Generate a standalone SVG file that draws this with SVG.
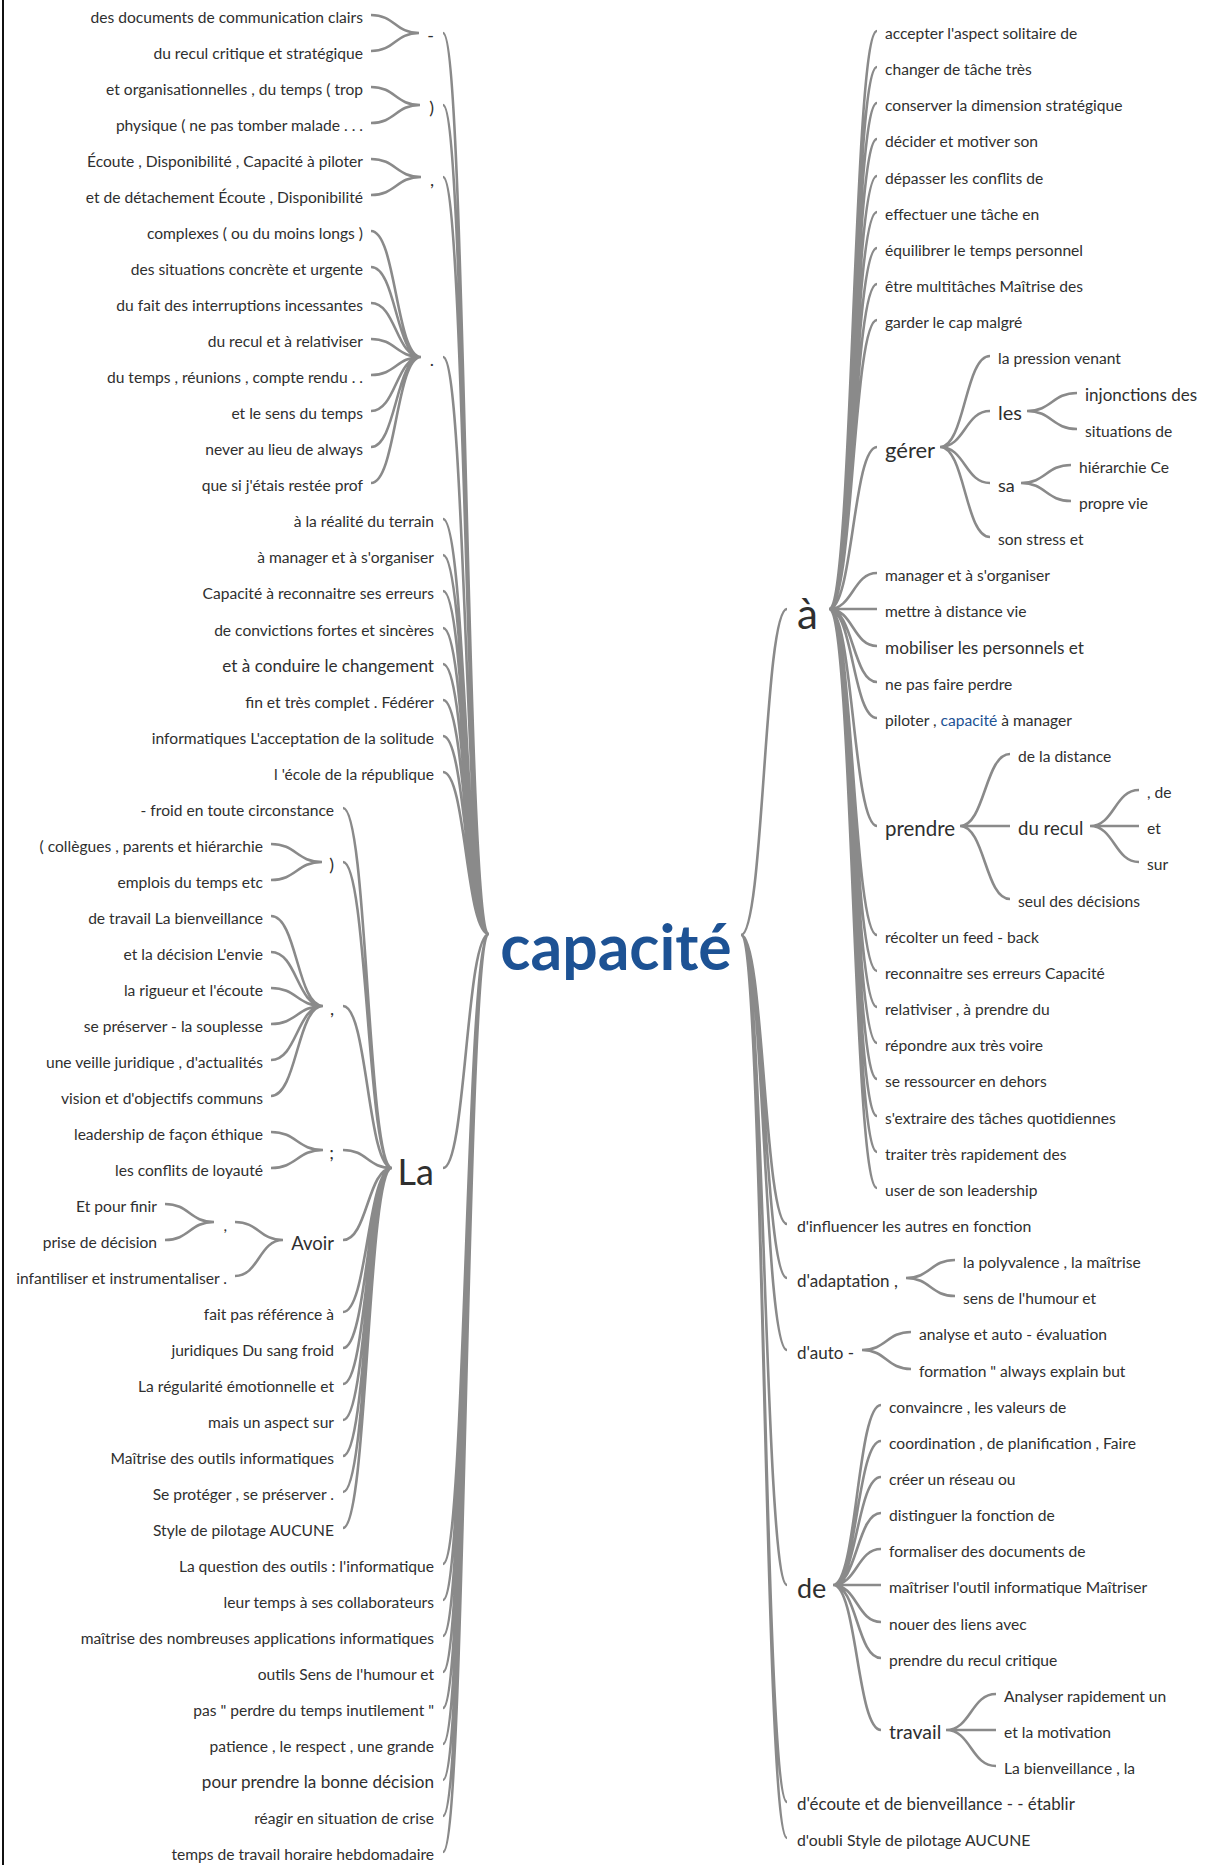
<svg xmlns="http://www.w3.org/2000/svg" width="1208" height="1865" viewBox="0 0 1208 1865">
<style>
.t{font-family:Lato,'Liberation Sans',sans-serif;font-size:15.6px;fill:#2f2f2f}
.e{text-anchor:end}
.c path{fill:none;stroke:#8a8a8a;stroke-width:2.6}
.root{font-family:Lato,'Liberation Sans',sans-serif;font-weight:bold;font-size:62.5px;fill:#1d5294;text-anchor:middle}
.hl{fill:#1d5294}
</style>
<rect x="2" y="0" width="2" height="1865" fill="#111"/>
<g class="c" id="connectors">
<path d="M489 934C466 934 466 33 443 33M489 934C466 934 466 105 443 105M489 934C466 934 466 177 443 177M489 934C466 934 466 357 443 357M489 934C466 934 466 519 443 519M489 934C466 934 466 555 443 555M489 934C466 934 466 591 443 591M489 934C466 934 466 628 443 628M489 934C466 934 466 664 443 664M489 934C466 934 466 700 443 700M489 934C466 934 466 736 443 736M489 934C466 934 466 772 443 772M489 934C466 934 466 1168 443 1168M489 934C466 934 466 1564 443 1564M489 934C466 934 466 1600 443 1600M489 934C466 934 466 1636 443 1636M489 934C466 934 466 1672 443 1672M489 934C466 934 466 1708 443 1708M489 934C466 934 466 1744 443 1744M489 934C466 934 466 1780 443 1780M489 934C466 934 466 1816 443 1816M489 934C466 934 466 1852 443 1852"/>
<path d="M419 33C395 33 395 15 371 15M419 33C395 33 395 51 371 51"/>
<path d="M420 105C395.5 105 395.5 87 371 87M420 105C395.5 105 395.5 123 371 123"/>
<path d="M421 177C396 177 396 159 371 159M421 177C396 177 396 195 371 195"/>
<path d="M421 357C396 357 396 231 371 231M421 357C396 357 396 267 371 267M421 357C396 357 396 303 371 303M421 357C396 357 396 339 371 339M421 357C396 357 396 375 371 375M421 357C396 357 396 411 371 411M421 357C396 357 396 447 371 447M421 357C396 357 396 483 371 483"/>
<path d="M392 1168C367.5 1168 367.5 808 343 808M392 1168C367.5 1168 367.5 862 343 862M392 1168C367.5 1168 367.5 1006 343 1006M392 1168C367.5 1168 367.5 1150 343 1150M392 1168C367.5 1168 367.5 1240 343 1240M392 1168C367.5 1168 367.5 1312 343 1312M392 1168C367.5 1168 367.5 1348 343 1348M392 1168C367.5 1168 367.5 1384 343 1384M392 1168C367.5 1168 367.5 1420 343 1420M392 1168C367.5 1168 367.5 1456 343 1456M392 1168C367.5 1168 367.5 1492 343 1492M392 1168C367.5 1168 367.5 1528 343 1528"/>
<path d="M322 862C296.5 862 296.5 844 271 844M322 862C296.5 862 296.5 880 271 880"/>
<path d="M323 1006C297 1006 297 916 271 916M323 1006C297 1006 297 952 271 952M323 1006C297 1006 297 988 271 988M323 1006C297 1006 297 1024 271 1024M323 1006C297 1006 297 1060 271 1060M323 1006C297 1006 297 1096 271 1096"/>
<path d="M323 1150C297 1150 297 1132 271 1132M323 1150C297 1150 297 1168 271 1168"/>
<path d="M283 1240C259 1240 259 1222 235 1222M283 1240C259 1240 259 1276 235 1276"/>
<path d="M214 1222C189.5 1222 189.5 1204 165 1204M214 1222C189.5 1222 189.5 1240 165 1240"/>
<path d="M741 935C764 935 764 609 787 609M741 935C764 935 764 1224 787 1224M741 935C764 935 764 1278 787 1278M741 935C764 935 764 1350 787 1350M741 935C764 935 764 1585 787 1585M741 935C764 935 764 1802 787 1802M741 935C764 935 764 1838 787 1838"/>
<path d="M829 609C853 609 853 31 877 31M829 609C853 609 853 67 877 67M829 609C853 609 853 103 877 103M829 609C853 609 853 139 877 139M829 609C853 609 853 176 877 176M829 609C853 609 853 212 877 212M829 609C853 609 853 248 877 248M829 609C853 609 853 284 877 284M829 609C853 609 853 320 877 320M829 609C853 609 853 447 877 447M829 609C853 609 853 573 877 573M829 609C853 609 853 609 877 609M829 609C853 609 853 646 877 646M829 609C853 609 853 682 877 682M829 609C853 609 853 718 877 718M829 609C853 609 853 826 877 826M829 609C853 609 853 935 877 935M829 609C853 609 853 971 877 971M829 609C853 609 853 1007 877 1007M829 609C853 609 853 1043 877 1043M829 609C853 609 853 1079 877 1079M829 609C853 609 853 1116 877 1116M829 609C853 609 853 1152 877 1152M829 609C853 609 853 1188 877 1188"/>
<path d="M940 447C965 447 965 356 990 356M940 447C965 447 965 411 990 411M940 447C965 447 965 483 990 483M940 447C965 447 965 537 990 537"/>
<path d="M1027 411C1052 411 1052 393 1077 393M1027 411C1052 411 1052 429 1077 429"/>
<path d="M1021 483C1046 483 1046 465 1071 465M1021 483C1046 483 1046 501 1071 501"/>
<path d="M960 826C985 826 985 754 1010 754M960 826C985 826 985 826 1010 826M960 826C985 826 985 899 1010 899"/>
<path d="M1090 826C1114.5 826 1114.5 790 1139 790M1090 826C1114.5 826 1114.5 826 1139 826M1090 826C1114.5 826 1114.5 862 1139 862"/>
<path d="M906 1278C930.5 1278 930.5 1260 955 1260M906 1278C930.5 1278 930.5 1296 955 1296"/>
<path d="M862 1350C886.5 1350 886.5 1332 911 1332M862 1350C886.5 1350 886.5 1369 911 1369"/>
<path d="M833 1585C857 1585 857 1405 881 1405M833 1585C857 1585 857 1441 881 1441M833 1585C857 1585 857 1477 881 1477M833 1585C857 1585 857 1513 881 1513M833 1585C857 1585 857 1549 881 1549M833 1585C857 1585 857 1585 881 1585M833 1585C857 1585 857 1622 881 1622M833 1585C857 1585 857 1658 881 1658M833 1585C857 1585 857 1730 881 1730"/>
<path d="M946 1730C971 1730 971 1694 996 1694M946 1730C971 1730 971 1730 996 1730M946 1730C971 1730 971 1766 996 1766"/>
</g>
<g id="root"><text class="root" x="616" y="970">capacité</text></g>
<g id="left-nodes" class="t e">
<g id="l-dash"><text x="434" y="42" font-size="18">-</text></g>
<g id="l-paren"><text x="434" y="114" font-size="18">)</text></g>
<g id="l-comma"><text x="434" y="186" font-size="18">,</text></g>
<g id="l-dot"><text x="434" y="366" font-size="18">.</text></g>
<g id="l-La"><text x="434" y="1185" font-size="36">La</text></g>
<g id="l-La-paren"><text x="334" y="871" font-size="18">)</text></g>
<g id="l-La-comma"><text x="334" y="1015" font-size="18">,</text></g>
<g id="l-La-semi"><text x="334" y="1159" font-size="18">;</text></g>
<g id="l-Avoir"><text x="334" y="1250" font-size="18.5">Avoir</text></g>
<g id="l-Avoir-comma"><text x="227" y="1231">,</text></g>
<g id="l0"><text x="363" y="23">des documents de communication clairs</text></g>
<g id="l1"><text x="363" y="59">du recul critique et stratégique</text></g>
<g id="l2"><text x="363" y="95">et organisationnelles , du temps ( trop</text></g>
<g id="l3"><text x="363" y="131">physique ( ne pas tomber malade . . .</text></g>
<g id="l4"><text x="363" y="167">Écoute , Disponibilité , Capacité à piloter</text></g>
<g id="l5"><text x="363" y="203">et de détachement Écoute , Disponibilité</text></g>
<g id="l6"><text x="363" y="239">complexes ( ou du moins longs )</text></g>
<g id="l7"><text x="363" y="275">des situations concrète et urgente</text></g>
<g id="l8"><text x="363" y="311">du fait des interruptions incessantes</text></g>
<g id="l9"><text x="363" y="347">du recul et à relativiser</text></g>
<g id="l10"><text x="363" y="383">du temps , réunions , compte rendu . .</text></g>
<g id="l11"><text x="363" y="419">et le sens du temps</text></g>
<g id="l12"><text x="363" y="455">never au lieu de always</text></g>
<g id="l13"><text x="363" y="491">que si j'étais restée prof</text></g>
<g id="l14"><text x="434" y="527">à la réalité du terrain</text></g>
<g id="l15"><text x="434" y="563">à manager et à s'organiser</text></g>
<g id="l16"><text x="434" y="599">Capacité à reconnaitre ses erreurs</text></g>
<g id="l17"><text x="434" y="636">de convictions fortes et sincères</text></g>
<g id="l18"><text x="434" y="672" font-size="17.1">et à conduire le changement</text></g>
<g id="l19"><text x="434" y="708">fin et très complet . Fédérer</text></g>
<g id="l20"><text x="434" y="744">informatiques L'acceptation de la solitude</text></g>
<g id="l21"><text x="434" y="780">l 'école de la république</text></g>
<g id="l22"><text x="334" y="816">- froid en toute circonstance</text></g>
<g id="l23"><text x="263" y="852">( collègues , parents et hiérarchie</text></g>
<g id="l24"><text x="263" y="888">emplois du temps etc</text></g>
<g id="l25"><text x="263" y="924">de travail La bienveillance</text></g>
<g id="l26"><text x="263" y="960">et la décision L'envie</text></g>
<g id="l27"><text x="263" y="996">la rigueur et l'écoute</text></g>
<g id="l28"><text x="263" y="1032">se préserver - la souplesse</text></g>
<g id="l29"><text x="263" y="1068">une veille juridique , d'actualités</text></g>
<g id="l30"><text x="263" y="1104">vision et d'objectifs communs</text></g>
<g id="l31"><text x="263" y="1140">leadership de façon éthique</text></g>
<g id="l32"><text x="263" y="1176">les conflits de loyauté</text></g>
<g id="l33"><text x="157" y="1212">Et pour finir</text></g>
<g id="l34"><text x="157" y="1248">prise de décision</text></g>
<g id="l35"><text x="227" y="1284">infantiliser et instrumentaliser .</text></g>
<g id="l36"><text x="334" y="1320">fait pas référence à</text></g>
<g id="l37"><text x="334" y="1356">juridiques Du sang froid</text></g>
<g id="l38"><text x="334" y="1392">La régularité émotionnelle et</text></g>
<g id="l39"><text x="334" y="1428">mais un aspect sur</text></g>
<g id="l40"><text x="334" y="1464">Maîtrise des outils informatiques</text></g>
<g id="l41"><text x="334" y="1500">Se protéger , se préserver .</text></g>
<g id="l42"><text x="334" y="1536">Style de pilotage AUCUNE</text></g>
<g id="l43"><text x="434" y="1572">La question des outils : l'informatique</text></g>
<g id="l44"><text x="434" y="1608">leur temps à ses collaborateurs</text></g>
<g id="l45"><text x="434" y="1644">maîtrise des nombreuses applications informatiques</text></g>
<g id="l46"><text x="434" y="1680">outils Sens de l'humour et</text></g>
<g id="l47"><text x="434" y="1716">pas " perdre du temps inutilement "</text></g>
<g id="l48"><text x="434" y="1752">patience , le respect , une grande</text></g>
<g id="l49"><text x="434" y="1788" font-size="17.1">pour prendre la bonne décision</text></g>
<g id="l50"><text x="434" y="1824">réagir en situation de crise</text></g>
<g id="l51"><text x="434" y="1860">temps de travail horaire hebdomadaire</text></g>
</g>
<g id="right-nodes" class="t">
<g id="r-a"><text x="797" y="629" font-size="42">à</text></g>
<g id="r-gerer"><text x="885" y="458" font-size="22">gérer</text></g>
<g id="r-les"><text x="998" y="420" font-size="20">les</text></g>
<g id="r-sa"><text x="998" y="492" font-size="18">sa</text></g>
<g id="r-prendre"><text x="885" y="836" font-size="20.5">prendre</text></g>
<g id="r-durecul"><text x="1018" y="835" font-size="18.6">du recul</text></g>
<g id="r-adapt"><text x="797" y="1287" font-size="17">d'adaptation ,</text></g>
<g id="r-auto"><text x="797" y="1359" font-size="17">d'auto -</text></g>
<g id="r-de"><text x="797" y="1598" font-size="27">de</text></g>
<g id="r-travail"><text x="889" y="1739" font-size="19.5">travail</text></g>
<g id="r0"><text x="885" y="39">accepter l'aspect solitaire de</text></g>
<g id="r1"><text x="885" y="75">changer de tâche très</text></g>
<g id="r2"><text x="885" y="111">conserver la dimension stratégique</text></g>
<g id="r3"><text x="885" y="147">décider et motiver son</text></g>
<g id="r4"><text x="885" y="184">dépasser les conflits de</text></g>
<g id="r5"><text x="885" y="220">effectuer une tâche en</text></g>
<g id="r6"><text x="885" y="256">équilibrer le temps personnel</text></g>
<g id="r7"><text x="885" y="292">être multitâches Maîtrise des</text></g>
<g id="r8"><text x="885" y="328">garder le cap malgré</text></g>
<g id="r9"><text x="998" y="364">la pression venant</text></g>
<g id="r10"><text x="1085" y="401" font-size="17">injonctions des</text></g>
<g id="r11"><text x="1085" y="437">situations de</text></g>
<g id="r12"><text x="1079" y="473">hiérarchie Ce</text></g>
<g id="r13"><text x="1079" y="509">propre vie</text></g>
<g id="r14"><text x="998" y="545">son stress et</text></g>
<g id="r15"><text x="885" y="581">manager et à s'organiser</text></g>
<g id="r16"><text x="885" y="617">mettre à distance vie</text></g>
<g id="r17"><text x="885" y="654" font-size="17.2">mobiliser les personnels et</text></g>
<g id="r18"><text x="885" y="690">ne pas faire perdre</text></g>
<g id="r19"><text x="885" y="726">piloter , <tspan class="hl">capacité</tspan> à manager</text></g>
<g id="r20"><text x="1018" y="762">de la distance</text></g>
<g id="r21"><text x="1147" y="798">, de</text></g>
<g id="r22"><text x="1147" y="834">et</text></g>
<g id="r23"><text x="1147" y="870">sur</text></g>
<g id="r24"><text x="1018" y="907">seul des décisions</text></g>
<g id="r25"><text x="885" y="943">récolter un feed - back</text></g>
<g id="r26"><text x="885" y="979">reconnaitre ses erreurs Capacité</text></g>
<g id="r27"><text x="885" y="1015">relativiser , à prendre du</text></g>
<g id="r28"><text x="885" y="1051">répondre aux très voire</text></g>
<g id="r29"><text x="885" y="1087">se ressourcer en dehors</text></g>
<g id="r30"><text x="885" y="1124">s'extraire des tâches quotidiennes</text></g>
<g id="r31"><text x="885" y="1160">traiter très rapidement des</text></g>
<g id="r32"><text x="885" y="1196">user de son leadership</text></g>
<g id="r33"><text x="797" y="1232" font-size="15.8">d'influencer les autres en fonction</text></g>
<g id="r34"><text x="963" y="1268">la polyvalence , la maîtrise</text></g>
<g id="r35"><text x="963" y="1304">sens de l'humour et</text></g>
<g id="r36"><text x="919" y="1340">analyse et auto - évaluation</text></g>
<g id="r37"><text x="919" y="1377">formation " always explain but</text></g>
<g id="r38"><text x="889" y="1413">convaincre , les valeurs de</text></g>
<g id="r39"><text x="889" y="1449">coordination , de planification , Faire</text></g>
<g id="r40"><text x="889" y="1485">créer un réseau ou</text></g>
<g id="r41"><text x="889" y="1521">distinguer la fonction de</text></g>
<g id="r42"><text x="889" y="1557">formaliser des documents de</text></g>
<g id="r43"><text x="889" y="1593">maîtriser l'outil informatique Maîtriser</text></g>
<g id="r44"><text x="889" y="1630">nouer des liens avec</text></g>
<g id="r45"><text x="889" y="1666">prendre du recul critique</text></g>
<g id="r46"><text x="1004" y="1702">Analyser rapidement un</text></g>
<g id="r47"><text x="1004" y="1738">et la motivation</text></g>
<g id="r48"><text x="1004" y="1774">La bienveillance , la</text></g>
<g id="r49"><text x="797" y="1810" font-size="16.9">d'écoute et de bienveillance - - établir</text></g>
<g id="r50"><text x="797" y="1846" font-size="15.8">d'oubli Style de pilotage AUCUNE</text></g>
</g>
</svg>
